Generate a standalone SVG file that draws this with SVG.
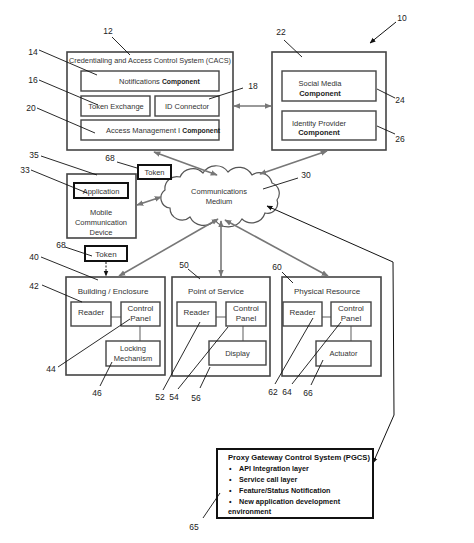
<svg xmlns="http://www.w3.org/2000/svg" width="474" height="543" viewBox="0 0 474 543">
<defs>
<marker id="ga" viewBox="0 0 10 10" refX="9" refY="5" markerWidth="7" markerHeight="7" orient="auto-start-reverse" markerUnits="userSpaceOnUse"><path d="M0,1 L10,5 L0,9 z" fill="#777"/></marker>
<marker id="ba" viewBox="0 0 10 10" refX="9" refY="5" markerWidth="6" markerHeight="6" orient="auto-start-reverse" markerUnits="userSpaceOnUse"><path d="M0,1 L10,5 L0,9 z" fill="#111"/></marker>
<style>
.ob{fill:#fff;stroke:#444;stroke-width:1.6}
.ib{fill:#fff;stroke:#444;stroke-width:1.4}
.tb{fill:#fff;stroke:#111;stroke-width:2}
.t{font-family:"Liberation Sans",Arial,sans-serif;font-size:7.5px;fill:#333}
.tm{font-family:"Liberation Sans",Arial,sans-serif;font-size:8px;fill:#333}
.b{font-weight:bold;fill:#222}
.n{font-family:"Liberation Sans",Arial,sans-serif;font-size:8.5px;fill:#222}
.ld{stroke:#111;stroke-width:0.9;fill:none}
.ga{stroke:#777;stroke-width:1.6;fill:none;marker-start:url(#ga);marker-end:url(#ga)}
.gc{stroke:#777;stroke-width:1.2;fill:none}
.p{font-family:"Liberation Sans",Arial,sans-serif;font-size:7.2px;font-weight:bold;fill:#111}
</style>
</defs>
<rect width="474" height="543" fill="#fff"/>

<g id="cacs">
<rect class="ob" x="67" y="52" width="166" height="98"/>
<text class="t" x="150" y="63" text-anchor="middle" textLength="162" lengthAdjust="spacingAndGlyphs">Credentialing and Access Control System (CACS)</text>
<rect class="ib" x="81" y="71" width="138" height="20"/>
<text class="t" x="119" y="84">Notifications <tspan class="b" font-size="6.8">Component</tspan></text>
<rect class="ib" x="81" y="96" width="69" height="20"/>
<text class="t" x="116" y="109" text-anchor="middle">Token Exchange</text>
<rect class="ib" x="155" y="96" width="64" height="20"/>
<text class="t" x="187" y="109" text-anchor="middle">ID Connector</text>
<rect class="ib" x="81" y="120" width="138" height="20"/>
<text class="t" x="106" y="133">Access Management I <tspan class="b" font-size="6.8">Component</tspan></text>
</g>

<g id="idp">
<rect class="ob" x="272" y="52" width="114" height="98"/>
<rect class="ib" x="282" y="71" width="94" height="30"/>
<text class="t" x="320" y="86" text-anchor="middle">Social Media</text>
<text class="t b" x="320" y="95.5" text-anchor="middle" font-size="6.8">Component</text>
<rect class="ib" x="282" y="111" width="94" height="29"/>
<text class="t" x="319" y="126" text-anchor="middle">Identity Provider</text>
<text class="t b" x="319" y="135" text-anchor="middle" font-size="6.8">Component</text>
</g>

<g id="cloud">
<path d="M170,208 A10,10 0 0 1 165,190 A12,12 0 0 1 180,177 A14,14 0 0 1 203,173 A15,15 0 0 1 228,172 A15,15 0 0 1 252,175 A13,13 0 0 1 272,183 A11,11 0 0 1 277,200 A10,10 0 0 1 265,213 A14,14 0 0 1 242,219 A16,16 0 0 1 215,220 A15,15 0 0 1 190,217 A12,12 0 0 1 170,208 Z" fill="#fff" stroke="#555" stroke-width="1.2"/>
<text class="t" x="219" y="194" text-anchor="middle">Communications</text>
<text class="t" x="219" y="204" text-anchor="middle">Medium</text>
</g>

<g id="token-top">
<rect class="tb" x="138" y="165" width="33" height="14"/>
<text class="t" x="154.5" y="175" text-anchor="middle" font-size="6.5" fill="#111">Token</text>
</g>

<g id="mobile">
<rect class="ob" x="67" y="174" width="69" height="64"/>
<rect class="tb" x="74" y="183" width="54" height="15" stroke="#333" stroke-width="1.6"/>
<text class="t" x="101" y="194" text-anchor="middle">Application</text>
<text class="t" x="101" y="215" text-anchor="middle">Mobile</text>
<text class="t" x="101" y="225" text-anchor="middle">Communication</text>
<text class="t" x="101" y="235" text-anchor="middle">Device</text>
</g>

<g id="token-low">
<rect class="tb" x="85" y="246" width="42" height="15"/>
<text class="tm" x="106" y="257" text-anchor="middle" font-size="8.5" fill="#111">Token</text>
</g>

<g id="building">
<rect class="ob" x="66" y="277" width="99" height="98"/>
<text class="tm" x="113" y="294" text-anchor="middle">Building / Enclosure</text>
<line class="gc" x1="111" y1="317" x2="121" y2="317"/>
<line class="gc" x1="140" y1="326" x2="140" y2="341"/>
<rect class="ib" x="71" y="302" width="40" height="24"/>
<text class="tm" x="91" y="315" text-anchor="middle">Reader</text>
<rect class="ib" x="121" y="302" width="39" height="24"/>
<text class="tm" x="140.5" y="311" text-anchor="middle">Control</text>
<text class="tm" x="140.5" y="321" text-anchor="middle">Panel</text>
<rect class="ib" x="106" y="341" width="54" height="25"/>
<text class="t" x="133" y="351" text-anchor="middle">Locking</text>
<text class="t" x="133" y="361" text-anchor="middle">Mechanism</text>
</g>

<g id="pos">
<rect class="ob" x="172" y="277" width="98" height="99"/>
<text class="tm" x="216" y="294" text-anchor="middle">Point of Service</text>
<line class="gc" x1="216" y1="317" x2="226" y2="317"/>
<line class="gc" x1="243" y1="326" x2="243" y2="341"/>
<rect class="ib" x="177" y="302" width="39" height="24"/>
<text class="tm" x="196.5" y="315" text-anchor="middle">Reader</text>
<rect class="ib" x="226" y="302" width="40" height="24"/>
<text class="tm" x="246" y="311" text-anchor="middle">Control</text>
<text class="tm" x="246" y="321" text-anchor="middle">Panel</text>
<rect class="ib" x="209" y="341" width="57" height="24"/>
<text class="t" x="237.5" y="356" text-anchor="middle">Display</text>
</g>

<g id="physical">
<rect class="ob" x="282" y="277" width="99" height="99"/>
<text class="tm" x="327" y="294" text-anchor="middle">Physical Resource</text>
<line class="gc" x1="322" y1="317" x2="331" y2="317"/>
<line class="gc" x1="351" y1="326" x2="351" y2="341"/>
<rect class="ib" x="283" y="302" width="39" height="24"/>
<text class="tm" x="302.5" y="315" text-anchor="middle">Reader</text>
<rect class="ib" x="331" y="302" width="40" height="24"/>
<text class="tm" x="351" y="311" text-anchor="middle">Control</text>
<text class="tm" x="351" y="321" text-anchor="middle">Panel</text>
<rect class="ib" x="316" y="341" width="55" height="25"/>
<text class="t" x="343.5" y="356" text-anchor="middle">Actuator</text>
</g>

<g id="pgcs">
<rect x="217" y="449" width="156" height="69" fill="#fff" stroke="#111" stroke-width="2"/>
<text class="p" x="228" y="460" textLength="142" lengthAdjust="spacingAndGlyphs">Proxy Gateway Control System (PGCS)</text>
<text class="p" x="229" y="471">•</text><text class="p" x="239" y="471">API Integration layer</text>
<text class="p" x="229" y="482">•</text><text class="p" x="239" y="482">Service call layer</text>
<text class="p" x="229" y="493">•</text><text class="p" x="239" y="493">Feature/Status Notification</text>
<text class="p" x="229" y="504">•</text><text class="p" x="239" y="504">New application development</text>
<text class="p" x="228" y="514">environment</text>
</g>

<g id="connectors">
<line class="ga" x1="234" y1="106" x2="271" y2="106"/>
<line class="ga" x1="154" y1="152" x2="217" y2="175"/>
<line class="ga" x1="327" y1="151" x2="260" y2="174"/>
<line class="ga" x1="137" y1="205" x2="161" y2="197"/>
<line class="ga" x1="218" y1="219" x2="119" y2="276"/>
<line class="ga" x1="221" y1="221" x2="221" y2="276"/>
<line class="ga" x1="225" y1="220" x2="328" y2="276"/>
<line x1="106" y1="262" x2="106" y2="276" stroke="#111" stroke-width="1" stroke-dasharray="2,1.5" marker-end="url(#ba)"/>
<polyline points="267,206 393,262 394,415 373,463" fill="none" stroke="#111" stroke-width="1" marker-start="url(#ba)" marker-end="url(#ba)"/>
<line x1="396" y1="22" x2="370" y2="43" stroke="#111" stroke-width="1" marker-end="url(#ba)"/>
</g>

<g id="labels">
<text class="n" x="108" y="34" text-anchor="middle">12</text>
<line class="ld" x1="112" y1="37" x2="130" y2="55"/>
<text class="n" x="33" y="55" text-anchor="middle">14</text>
<line class="ld" x1="39" y1="50" x2="97" y2="75"/>
<text class="n" x="33" y="83" text-anchor="middle">16</text>
<line class="ld" x1="39" y1="80" x2="98" y2="105"/>
<text class="n" x="31" y="111" text-anchor="middle">20</text>
<line class="ld" x1="37" y1="108" x2="95" y2="133"/>
<text class="n" x="253" y="89" text-anchor="middle">18</text>
<line class="ld" x1="243" y1="88" x2="209" y2="99"/>
<text class="n" x="281" y="35" text-anchor="middle">22</text>
<line class="ld" x1="284" y1="40" x2="302" y2="57"/>
<text class="n" x="402" y="21" text-anchor="middle">10</text>
<text class="n" x="400" y="103" text-anchor="middle">24</text>
<line class="ld" x1="377" y1="89" x2="395" y2="98"/>
<text class="n" x="400" y="142" text-anchor="middle">26</text>
<line class="ld" x1="377" y1="126" x2="395" y2="134"/>
<text class="n" x="306" y="178" text-anchor="middle">30</text>
<line class="ld" x1="298" y1="178" x2="263" y2="189"/>
<text class="n" x="110" y="161" text-anchor="middle">68</text>
<line class="ld" x1="117" y1="162" x2="137" y2="168"/>
<text class="n" x="34" y="158" text-anchor="middle">35</text>
<line class="ld" x1="41" y1="156" x2="97" y2="175"/>
<text class="n" x="25" y="173" text-anchor="middle">33</text>
<line class="ld" x1="31" y1="170" x2="87" y2="193"/>
<text class="n" x="61" y="248" text-anchor="middle">68</text>
<line class="ld" x1="65" y1="247" x2="92" y2="256"/>
<text class="n" x="34" y="260" text-anchor="middle">40</text>
<line class="ld" x1="41" y1="257" x2="98" y2="280"/>
<text class="n" x="184" y="268" text-anchor="middle">50</text>
<line class="ld" x1="188" y1="269" x2="200" y2="279"/>
<text class="n" x="277" y="270" text-anchor="middle">60</text>
<line class="ld" x1="282" y1="272" x2="293" y2="283"/>
<text class="n" x="34" y="289" text-anchor="middle">42</text>
<line class="ld" x1="42" y1="285" x2="82" y2="302"/>
<text class="n" x="51" y="372" text-anchor="middle">44</text>
<line class="ld" x1="58" y1="367" x2="130" y2="319"/>
<text class="n" x="97" y="396" text-anchor="middle">46</text>
<line class="ld" x1="100" y1="386" x2="112" y2="362"/>
<text class="n" x="160" y="400" text-anchor="middle">52</text>
<line class="ld" x1="163" y1="390" x2="200" y2="322"/>
<text class="n" x="174" y="400" text-anchor="middle">54</text>
<line class="ld" x1="178" y1="389" x2="228" y2="327"/>
<text class="n" x="196" y="401" text-anchor="middle">56</text>
<line class="ld" x1="200" y1="388" x2="210" y2="367"/>
<text class="n" x="273" y="395" text-anchor="middle">62</text>
<line class="ld" x1="275" y1="384" x2="313" y2="318"/>
<text class="n" x="287" y="395" text-anchor="middle">64</text>
<line class="ld" x1="292" y1="384" x2="341" y2="322"/>
<text class="n" x="308" y="396" text-anchor="middle">66</text>
<line class="ld" x1="311" y1="385" x2="323" y2="360"/>
<text class="n" x="194" y="530" text-anchor="middle">65</text>
<line class="ld" x1="203" y1="518" x2="220" y2="493"/>
</g>
</svg>
